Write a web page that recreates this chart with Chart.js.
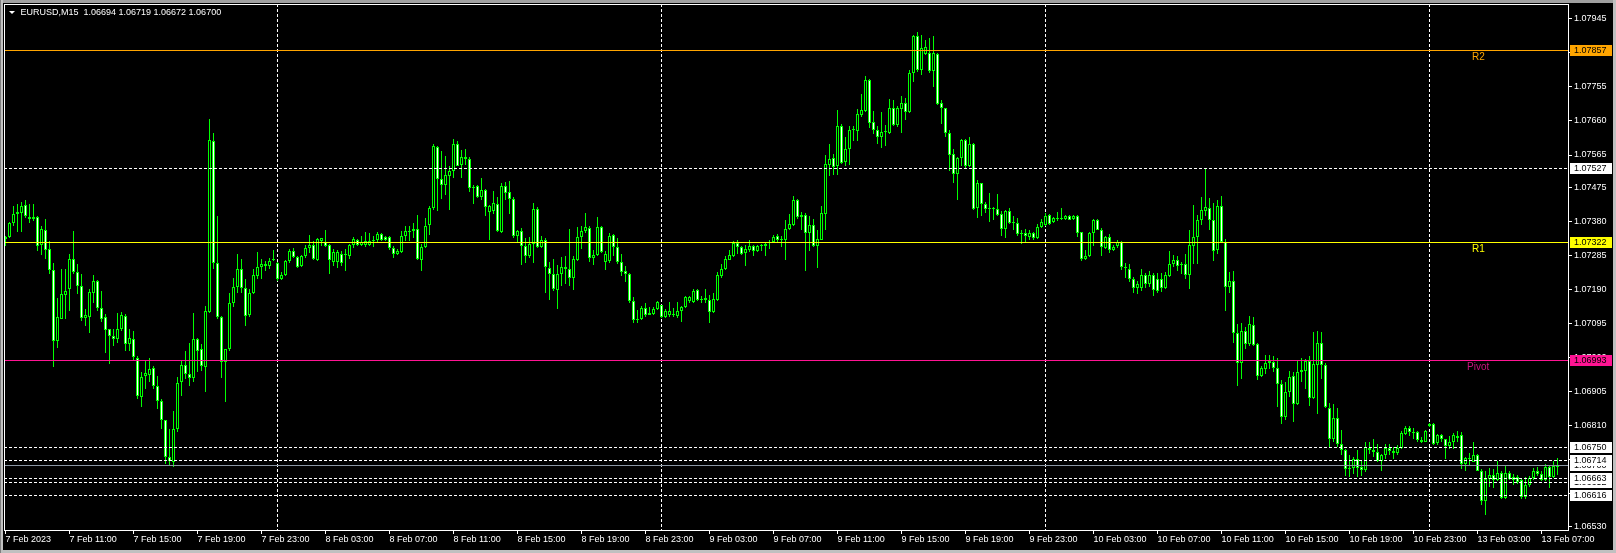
<!DOCTYPE html>
<html>
<head>
<meta charset="utf-8">
<script src="https://cdn.jsdelivr.net/npm/chart.js@4.4.1/dist/chart.umd.min.js"></script>
<style>
html,body{margin:0;padding:0;background:#000;overflow:hidden}
#wrap{width:1616px;height:553px;position:relative}
</style>
</head>
<body>
<div id="wrap"><canvas id="c"></canvas></div>
<script>
// ---------------- DATA ----------------
const symbolTitle = 'EURUSD,M15';

const opens = [
1.07331,1.07337,1.07376,1.07401,1.07403,1.07426,1.07392,1.07387,1.07392,1.07314,
1.07357,1.07302,1.07243,1.07047,1.07109,1.07175,1.07192,1.07276,1.07239,1.07200,
1.07111,1.07114,1.07181,1.07214,1.07137,1.07114,1.07079,1.07059,1.07052,1.07079,
1.07116,1.07038,1.07053,1.07000,1.06889,1.06948,1.06952,1.06970,1.06920,1.06880,
1.06825,1.06723,1.06709,1.06800,1.06931,1.06979,1.06954,1.06942,1.07052,1.07024,
1.06973,1.07126,1.07604,1.07263,1.07114,1.06989,1.07024,1.07151,1.07198,1.07248,
1.07194,1.07118,1.07181,1.07227,1.07252,1.07255,1.07255,1.07272,1.07264,1.07220,
1.07231,1.07269,1.07297,1.07281,1.07255,1.07283,1.07306,1.07313,1.07272,1.07324,
1.07322,1.07313,1.07268,1.07266,1.07290,1.07287,1.07283,1.07313,1.07327,1.07314,
1.07314,1.07314,1.07324,1.07327,1.07345,1.07337,1.07337,1.07306,1.07289,
1.07294,1.07338,1.07349,1.07353,1.07359,1.07271,1.07308,1.07370,1.07417,1.07588,
1.07497,1.07481,1.07507,1.07521,1.07597,1.07537,1.07559,1.07553,1.07474,1.07479,
1.07449,1.07468,1.07405,1.07408,1.07429,1.07349,1.07479,1.07462,1.07442,1.07338,
1.07354,1.07312,1.07284,1.07318,1.07414,1.07308,1.07329,1.07250,1.07233,1.07188,
1.07233,1.07253,1.07247,1.07222,1.07271,1.07336,1.07354,1.07361,1.07278,1.07285,
1.07364,1.07266,1.07269,1.07342,1.07308,1.07266,1.07241,1.07233,1.07158,1.07105,
1.07108,1.07138,1.07120,1.07121,1.07136,1.07147,1.07114,1.07118,1.07118,1.07116,
1.07130,1.07142,1.07158,1.07155,1.07188,1.07162,1.07160,1.07162,1.07127,1.07162,
1.07227,1.07247,1.07273,1.07283,1.07320,1.07308,1.07292,1.07301,1.07312,1.07296,
1.07310,1.07310,1.07320,1.07321,1.07338,1.07327,1.07327,1.07358,1.07371,1.07440,
1.07392,1.07397,1.07347,1.07370,1.07312,1.07329,1.07401,1.07537,1.07556,1.07533,
1.07647,1.07546,1.07581,1.07634,1.07633,1.07676,1.07688,1.07775,1.07656,1.07636,
1.07614,1.07629,1.07627,1.07697,1.07648,1.07692,1.07710,1.07685,1.07794,1.07898,
1.07803,1.07847,1.07849,1.07799,1.07847,1.07709,1.07695,1.07627,1.07568,1.07512,
1.07556,1.07607,1.07533,1.07597,1.07416,1.07486,1.07429,1.07414,1.07416,1.07414,
1.07401,1.07358,1.07408,1.07375,1.07375,1.07346,1.07347,1.07336,1.07347,1.07333,
1.07364,1.07371,1.07397,1.07377,1.07386,1.07387,1.07386,1.07396,1.07386,1.07396,
1.07349,1.07275,1.07283,1.07347,1.07384,1.07357,1.07306,1.07336,1.07301,1.07310,
1.07321,1.07253,1.07247,1.07218,1.07195,1.07195,1.07229,1.07205,
1.07229,1.07220,1.07220,1.07195,1.07227,1.07260,1.07273,1.07260,1.07260,1.07229,
1.07312,1.07336,1.07383,1.07410,1.07417,1.07385,1.07301,1.07423,1.07322,1.07197,
1.07215,1.07070,1.06986,1.07074,1.07037,1.07090,1.07037,1.06949,1.06968,1.06986,
1.06989,1.06972,1.06925,1.06833,1.06905,1.06949,1.06871,1.06960,1.06963,1.06990,
1.06886,1.06979,1.07040,1.06979,1.06859,1.06772,1.06831,1.06759,1.06743,1.06688,
1.06692,1.06718,1.06695,1.06686,1.06747,1.06741,1.06736,1.06713,1.06727,1.06747,
1.06740,1.06734,1.06748,1.06787,1.06803,1.06792,1.06792,1.06771,1.06766,1.06814,
1.06814,1.06762,1.06784,1.06772,1.06753,1.06766,1.06777,1.06783,1.06704,1.06720,
1.06710,1.06729,1.06685,1.06599,1.06661,1.06673,1.06658,1.06679,1.06609,1.06679,
1.06667,1.06667,1.06658,1.06611,1.06646,1.06664,1.06685,1.06676,1.06658,1.06695,
1.06667,1.06694
];

const highs = [
1.07340,1.07377,1.07422,1.07427,1.07433,1.07440,1.07427,1.07427,1.07396,1.07368,
1.07387,1.07325,1.07265,1.07167,1.07246,1.07246,1.07288,1.07352,1.07260,1.07232,
1.07135,1.07192,1.07229,1.07216,1.07186,1.07121,1.07081,1.07081,1.07124,1.07127,
1.07121,1.07081,1.07075,1.07005,1.06959,1.06994,1.06998,1.06977,1.06950,1.06885,
1.06827,1.06801,1.06852,1.06945,1.06994,1.07019,1.07042,1.07124,1.07056,1.07038,
1.07144,1.07665,1.07626,1.07394,1.07116,1.07024,1.07181,1.07223,1.07289,1.07274,
1.07220,1.07190,1.07246,1.07295,1.07274,1.07269,1.07278,1.07300,1.07266,1.07239,
1.07272,1.07303,1.07306,1.07283,1.07285,1.07313,1.07343,1.07325,1.07334,1.07334,
1.07355,1.07318,1.07302,1.07300,1.07297,1.07302,1.07318,1.07336,1.07331,1.07339,
1.07350,1.07348,1.07339,1.07350,1.07348,1.07340,1.07339,1.07311,1.07302,
1.07352,1.07366,1.07366,1.07375,1.07398,1.07318,1.07389,1.07423,1.07597,1.07590,
1.07577,1.07562,1.07534,1.07609,1.07604,1.07579,1.07581,1.07560,1.07482,1.07482,
1.07500,1.07470,1.07426,1.07465,1.07447,1.07486,1.07491,1.07493,1.07447,1.07357,
1.07361,1.07333,1.07336,1.07431,1.07421,1.07338,1.07333,1.07266,1.07275,1.07259,
1.07281,1.07283,1.07358,1.07284,1.07364,1.07366,1.07403,1.07366,1.07301,1.07392,
1.07366,1.07296,1.07347,1.07344,1.07333,1.07290,1.07255,1.07236,1.07170,1.07134,
1.07144,1.07151,1.07142,1.07142,1.07158,1.07148,1.07136,1.07155,1.07139,1.07155,
1.07144,1.07171,1.07171,1.07190,1.07192,1.07173,1.07190,1.07175,1.07181,1.07238,
1.07262,1.07283,1.07301,1.07324,1.07329,1.07312,1.07315,1.07329,1.07315,1.07315,
1.07318,1.07320,1.07327,1.07343,1.07346,1.07338,1.07384,1.07401,1.07451,1.07442,
1.07405,1.07403,1.07394,1.07386,1.07355,1.07423,1.07565,1.07596,1.07568,1.07690,
1.07651,1.07614,1.07646,1.07647,1.07694,1.07736,1.07784,1.07777,1.07688,1.07646,
1.07685,1.07648,1.07722,1.07718,1.07701,1.07729,1.07725,1.07803,1.07901,1.07907,
1.07901,1.07886,1.07892,1.07896,1.07849,1.07718,1.07697,1.07634,1.07583,1.07560,
1.07611,1.07611,1.07616,1.07599,1.07494,1.07488,1.07435,1.07458,1.07421,1.07457,
1.07408,1.07412,1.07417,1.07396,1.07388,1.07355,1.07358,1.07357,1.07351,1.07373,
1.07386,1.07403,1.07401,1.07392,1.07405,1.07417,1.07398,1.07398,1.07398,1.07398,
1.07351,1.07301,1.07351,1.07386,1.07386,1.07361,1.07338,1.07346,1.07315,1.07327,
1.07324,1.07264,1.07260,1.07225,1.07215,1.07246,1.07235,1.07241,
1.07235,1.07235,1.07236,1.07238,1.07297,1.07285,1.07283,1.07266,1.07290,1.07355,
1.07426,1.07398,1.07449,1.07528,1.07445,1.07431,1.07440,1.07451,1.07330,1.07238,
1.07241,1.07093,1.07097,1.07084,1.07116,1.07114,1.07040,1.06977,1.07007,1.07007,
1.07005,1.07000,1.06938,1.06931,1.06963,1.06960,1.06994,1.06998,1.06996,1.07005,
1.07072,1.07074,1.07072,1.06986,1.06873,1.06871,1.06859,1.06797,1.06746,1.06727,
1.06722,1.06741,1.06713,1.06764,1.06764,1.06772,1.06759,1.06732,1.06759,1.06759,
1.06750,1.06755,1.06794,1.06809,1.06810,1.06803,1.06794,1.06778,1.06797,1.06818,
1.06818,1.06787,1.06787,1.06773,1.06781,1.06790,1.06794,1.06792,1.06722,1.06734,
1.06766,1.06732,1.06688,1.06685,1.06692,1.06690,1.06713,1.06685,1.06699,1.06685,
1.06676,1.06673,1.06662,1.06667,1.06670,1.06692,1.06695,1.06683,1.06704,1.06699,
1.06713,1.06719
];

const lows = [
1.07311,1.07334,1.07366,1.07350,1.07350,1.07389,1.07376,1.07380,1.07297,1.07285,
1.07274,1.07232,1.06975,1.07028,1.07107,1.07107,1.07130,1.07232,1.07177,1.07102,
1.07089,1.07070,1.07153,1.07130,1.07098,1.07014,1.06982,1.07033,1.07042,1.07075,
1.07019,1.07019,1.06991,1.06885,1.06862,1.06913,1.06933,1.06913,1.06857,1.06801,
1.06704,1.06700,1.06695,1.06792,1.06894,1.06940,1.06920,1.06933,1.06959,1.06964,
1.06903,1.07124,1.07246,1.07107,1.06942,1.06877,1.07019,1.07142,1.07181,1.07181,
1.07087,1.07114,1.07177,1.07218,1.07220,1.07241,1.07246,1.07269,1.07214,1.07216,
1.07227,1.07264,1.07278,1.07251,1.07253,1.07278,1.07292,1.07272,1.07269,1.07311,
1.07309,1.07232,1.07255,1.07251,1.07255,1.07241,1.07274,1.07306,1.07311,1.07311,
1.07309,1.07311,1.07309,1.07322,1.07325,1.07324,1.07301,1.07278,1.07285,
1.07292,1.07324,1.07324,1.07333,1.07273,1.07241,1.07306,1.07343,1.07412,1.07410,
1.07442,1.07454,1.07412,1.07500,1.07533,1.07500,1.07537,1.07463,1.07429,1.07445,
1.07440,1.07396,1.07329,1.07401,1.07349,1.07347,1.07440,1.07401,1.07333,1.07320,
1.07257,1.07264,1.07278,1.07264,1.07306,1.07306,1.07179,1.07162,1.07185,1.07136,
1.07201,1.07204,1.07201,1.07188,1.07269,1.07303,1.07347,1.07266,1.07257,1.07283,
1.07292,1.07244,1.07264,1.07283,1.07262,1.07227,1.07210,1.07153,1.07097,1.07097,
1.07105,1.07114,1.07118,1.07118,1.07134,1.07111,1.07111,1.07114,1.07114,1.07111,
1.07099,1.07139,1.07153,1.07153,1.07158,1.07153,1.07151,1.07097,1.07125,1.07158,
1.07222,1.07244,1.07271,1.07281,1.07290,1.07287,1.07255,1.07294,1.07284,1.07294,
1.07296,1.07284,1.07303,1.07320,1.07323,1.07308,1.07271,1.07355,1.07368,1.07386,
1.07355,1.07241,1.07296,1.07308,1.07250,1.07327,1.07357,1.07507,1.07509,1.07509,
1.07540,1.07533,1.07537,1.07605,1.07605,1.07670,1.07685,1.07639,1.07623,1.07597,
1.07585,1.07590,1.07623,1.07646,1.07644,1.07627,1.07662,1.07683,1.07769,1.07796,
1.07787,1.07843,1.07794,1.07755,1.07704,1.07651,1.07616,1.07521,1.07486,1.07440,
1.07533,1.07528,1.07531,1.07412,1.07389,1.07394,1.07403,1.07377,1.07383,1.07394,
1.07340,1.07333,1.07373,1.07357,1.07340,1.07318,1.07320,1.07329,1.07327,1.07331,
1.07361,1.07368,1.07371,1.07375,1.07380,1.07384,1.07384,1.07383,1.07384,1.07336,
1.07269,1.07271,1.07281,1.07310,1.07355,1.07283,1.07304,1.07292,1.07296,1.07307,
1.07244,1.07222,1.07210,1.07180,1.07178,1.07185,1.07195,1.07198,
1.07173,1.07181,1.07183,1.07192,1.07225,1.07253,1.07241,1.07232,1.07218,1.07190,
1.07260,1.07260,1.07371,1.07396,1.07357,1.07269,1.07290,1.07320,1.07130,1.07179,
1.07042,1.06920,1.06940,1.07023,1.07033,1.07033,1.06938,1.06945,1.06954,1.06968,
1.06960,1.06861,1.06815,1.06827,1.06889,1.06820,1.06868,1.06931,1.06912,1.06864,
1.06884,1.06843,1.06940,1.06859,1.06750,1.06764,1.06750,1.06727,1.06670,1.06667,
1.06676,1.06667,1.06670,1.06681,1.06732,1.06723,1.06709,1.06685,1.06718,1.06727,
1.06718,1.06729,1.06744,1.06783,1.06781,1.06773,1.06766,1.06762,1.06764,1.06806,
1.06755,1.06755,1.06766,1.06718,1.06746,1.06746,1.06766,1.06688,1.06683,1.06699,
1.06709,1.06683,1.06588,1.06560,1.06639,1.06635,1.06655,1.06607,1.06607,1.06658,
1.06644,1.06648,1.06607,1.06607,1.06639,1.06658,1.06671,1.06655,1.06655,1.06635,
1.06664,1.06672
];

const closes = [
1.07337,1.07376,1.07401,1.07405,1.07424,1.07394,1.07387,1.07393,1.07311,1.07359,
1.07300,1.07243,1.07047,1.07112,1.07177,1.07185,1.07274,1.07239,1.07200,1.07110,
1.07118,1.07183,1.07214,1.07138,1.07109,1.07077,1.07059,1.07053,1.07079,1.07118,
1.07039,1.07056,1.07002,1.06892,1.06945,1.06956,1.06968,1.06920,1.06880,1.06825,
1.06723,1.06711,1.06801,1.06929,1.06979,1.06954,1.06944,1.07052,1.07019,1.06976,
1.07129,1.07607,1.07263,1.07114,1.06989,1.07024,1.07151,1.07198,1.07248,1.07193,
1.07116,1.07181,1.07229,1.07252,1.07260,1.07260,1.07269,1.07276,1.07220,1.07231,
1.07269,1.07297,1.07281,1.07253,1.07283,1.07306,1.07315,1.07276,1.07331,1.07333,
1.07311,1.07272,1.07295,1.07295,1.07264,1.07290,1.07313,1.07331,1.07314,1.07322,
1.07324,1.07325,1.07327,1.07345,1.07327,1.07327,1.07305,1.07288,1.07296,
1.07340,1.07354,1.07353,1.07359,1.07275,1.07308,1.07368,1.07417,1.07590,1.07497,
1.07481,1.07509,1.07521,1.07596,1.07534,1.07559,1.07553,1.07474,1.07477,1.07449,
1.07468,1.07421,1.07423,1.07431,1.07352,1.07479,1.07460,1.07442,1.07338,1.07354,
1.07310,1.07283,1.07318,1.07414,1.07308,1.07327,1.07253,1.07232,1.07190,1.07234,
1.07253,1.07247,1.07222,1.07275,1.07336,1.07354,1.07363,1.07278,1.07287,1.07364,
1.07294,1.07290,1.07340,1.07308,1.07266,1.07238,1.07233,1.07158,1.07105,1.07108,
1.07138,1.07118,1.07123,1.07136,1.07155,1.07114,1.07129,1.07130,1.07121,1.07130,
1.07142,1.07170,1.07170,1.07185,1.07160,1.07164,1.07167,1.07127,1.07164,1.07229,
1.07247,1.07275,1.07287,1.07320,1.07308,1.07290,1.07303,1.07312,1.07296,1.07312,
1.07314,1.07318,1.07323,1.07336,1.07327,1.07329,1.07358,1.07373,1.07440,1.07392,
1.07397,1.07347,1.07370,1.07312,1.07331,1.07403,1.07540,1.07553,1.07531,1.07647,
1.07544,1.07581,1.07636,1.07638,1.07678,1.07690,1.07775,1.07653,1.07636,1.07614,
1.07630,1.07631,1.07697,1.07648,1.07695,1.07710,1.07685,1.07795,1.07898,1.07801,
1.07864,1.07866,1.07799,1.07849,1.07707,1.07697,1.07627,1.07565,1.07512,1.07556,
1.07608,1.07533,1.07597,1.07414,1.07486,1.07429,1.07414,1.07417,1.07414,1.07398,
1.07358,1.07408,1.07375,1.07377,1.07345,1.07347,1.07338,1.07347,1.07333,1.07364,
1.07379,1.07396,1.07373,1.07388,1.07388,1.07389,1.07396,1.07384,1.07396,1.07347,
1.07275,1.07284,1.07347,1.07384,1.07357,1.07308,1.07336,1.07301,1.07308,1.07321,
1.07253,1.07249,1.07218,1.07195,1.07205,1.07229,1.07205,1.07229,
1.07188,1.07185,1.07195,1.07229,1.07262,1.07273,1.07255,1.07257,1.07229,1.07315,
1.07336,1.07385,1.07412,1.07420,1.07383,1.07297,1.07423,1.07322,1.07197,1.07213,
1.07070,1.06986,1.07074,1.07037,1.07093,1.07034,1.06949,1.06970,1.06986,1.06990,
1.06971,1.06925,1.06833,1.06905,1.06947,1.06871,1.06960,1.06965,1.06990,1.06886,
1.06982,1.07042,1.06979,1.06861,1.06772,1.06831,1.06759,1.06741,1.06688,1.06693,
1.06718,1.06692,1.06686,1.06750,1.06741,1.06736,1.06713,1.06727,1.06747,1.06740,
1.06734,1.06748,1.06790,1.06803,1.06792,1.06790,1.06769,1.06766,1.06794,1.06809,
1.06760,1.06784,1.06772,1.06753,1.06766,1.06783,1.06781,1.06704,1.06720,1.06716,
1.06729,1.06685,1.06599,1.06662,1.06673,1.06658,1.06679,1.06609,1.06679,1.06662,
1.06658,1.06653,1.06611,1.06646,1.06664,1.06685,1.06676,1.06658,1.06695,1.06667,
1.06699,1.06700
];

// time axis: bar index of each label and its text
const timeTickBars = [0,16,32,48,64,80,96,112,128,144,160,176,192,208,224,240,256,272,288,304,320,336,352,368,384];
const timeTickLabels = ['7 Feb 2023','7 Feb 11:00','7 Feb 15:00','7 Feb 19:00','7 Feb 23:00',
  '8 Feb 03:00','8 Feb 07:00','8 Feb 11:00','8 Feb 15:00','8 Feb 19:00','8 Feb 23:00',
  '9 Feb 03:00','9 Feb 07:00','9 Feb 11:00','9 Feb 15:00','9 Feb 19:00','9 Feb 23:00',
  '10 Feb 03:00','10 Feb 07:00','10 Feb 11:00','10 Feb 15:00','10 Feb 19:00','10 Feb 23:00',
  '13 Feb 03:00','13 Feb 07:00'];
const daySeparatorBars = [68,164,260,356];

// price axis tick labels
const priceTicks = [1.07945,1.07850,1.07755,1.07660,1.07565,1.07475,1.07380,1.07285,1.07190,1.07095,1.07000,1.06905,1.06810,1.06715,1.06620,1.06530];

// levels
const pivotNames  = ['R2','R1','Pivot'];
const pivotValues = [1.07857,1.07322,1.06993];
const dottedLevels = [1.07527,1.06750,1.06714,1.06663,1.06652,1.06616];

// ---------------- STYLE ----------------
const FONT = "'Liberation Sans', Arial, sans-serif";
const CANDLE = '#00FF00';
const pivotLineColors = ['#FFA500','#FFFF00','#FF1493'];
const pivotTextColors = ['#FFA500','#FFFF00','#C8157E'];
const BID_COLOR = '#8A96A3';
const DASH = [3,2];

Chart.defaults.font.family = FONT;
Chart.defaults.font.size = 9;
Chart.defaults.color = '#ffffff';

const N = closes.length;
const wickData = [], bodyData = [], bodyFill = [];
for (let i = 0; i < N; i++) {
  wickData.push({x: i, y: [lows[i], highs[i]]});
  bodyData.push({x: i, y: [opens[i], closes[i]]});
  bodyFill.push(closes[i] < opens[i] ? '#FFFFFF' : '#000000');
}
const bidValue = closes[N - 1];

function rowOf(scale, v) { return Math.floor(scale.getPixelForValue(v) + 0.2); }

const snapPlugin = {
  id: 'snap',
  afterDatasetsUpdate(chart) {
    chart.data.datasets.forEach((ds, di) => {
      const meta = chart.getDatasetMeta(di);
      meta.data.forEach(el => {
        const t0 = Math.min(el.y, el.base), b0 = Math.max(el.y, el.base);
        let t = Math.round(t0), b = Math.round(b0);
        if (b - t < 1) b = t + 1;
        if (el.y <= el.base) { el.y = t; el.base = b; } else { el.y = b; el.base = t; }
      });
    });
  }
};

function labelBox(ctx, row, text, bg) {
  ctx.fillStyle = bg;
  ctx.fillRect(1570, row - 5, 42, 11);
  ctx.fillStyle = '#000000';
  ctx.font = '9px ' + FONT;
  ctx.textAlign = 'left';
  ctx.textBaseline = 'middle';
  ctx.fillText(text, 1574, row + 0.5);
}

const overlayPlugin = {
  id: 'overlay',
  beforeDraw(chart) {
    const ctx = chart.ctx;
    ctx.save();
    ctx.fillStyle = '#000';
    ctx.fillRect(0, 0, chart.width, chart.height);
    ctx.restore();
  },
  beforeDatasetsDraw(chart) {
    const {ctx, chartArea: a, scales: {x}} = chart;
    ctx.save();
    ctx.strokeStyle = '#FFFFFF';
    ctx.lineWidth = 1;
    ctx.setLineDash(DASH);
    daySeparatorBars.forEach(b => {
      const px = Math.floor(x.getPixelForValue(b)) + 0.5;
      ctx.beginPath(); ctx.moveTo(px, a.top); ctx.lineTo(px, a.bottom); ctx.stroke();
    });
    ctx.restore();
  },
  afterDatasetsDraw(chart) {
    const {ctx, chartArea: a, scales: {y}} = chart;
    ctx.save();
    ctx.beginPath(); ctx.rect(a.left, a.top, a.right - a.left, a.bottom - a.top); ctx.clip();
    ctx.lineWidth = 1;
    // dotted levels
    ctx.strokeStyle = '#FFFFFF';
    ctx.setLineDash(DASH);
    dottedLevels.forEach(v => {
      const py = rowOf(y, v) + 0.5;
      ctx.beginPath(); ctx.moveTo(a.left, py); ctx.lineTo(a.right, py); ctx.stroke();
    });
    ctx.setLineDash([]);
    // bid line
    ctx.strokeStyle = BID_COLOR;
    let py = rowOf(y, bidValue) + 0.5;
    ctx.beginPath(); ctx.moveTo(a.left, py); ctx.lineTo(a.right, py); ctx.stroke();
    // pivot lines
    pivotValues.forEach((v, i) => {
      ctx.strokeStyle = pivotLineColors[i];
      const p = rowOf(y, v) + 0.5;
      ctx.beginPath(); ctx.moveTo(a.left, p); ctx.lineTo(a.right, p); ctx.stroke();
    });
    // pivot texts
    ctx.font = '10px ' + FONT;
    ctx.textAlign = 'left';
    ctx.textBaseline = 'middle';
    pivotValues.forEach((v, i) => {
      ctx.fillStyle = pivotTextColors[i];
      const x0 = pivotNames[i] === 'Pivot' ? 1467 : 1472;
      ctx.fillText(pivotNames[i], x0, rowOf(y, v) + 7);
    });
    ctx.restore();
  },
  afterDraw(chart) {
    const {ctx, chartArea: a, scales: {y}} = chart;
    ctx.save();
    // frame
    ctx.strokeStyle = '#FFFFFF';
    ctx.lineWidth = 1;
    ctx.strokeRect(Math.round(a.left) + 0.5, Math.round(a.top) + 0.5, Math.round(a.right - a.left), Math.round(a.bottom - a.top));
    // price labels on axis (hidden ones first)
    labelBox(ctx, rowOf(y, bidValue), bidValue.toFixed(5), '#FFFFFF');
    labelBox(ctx, rowOf(y, dottedLevels[4]), dottedLevels[4].toFixed(5), '#FFFFFF');
    [0,1,2,3,5].forEach(k => labelBox(ctx, rowOf(y, dottedLevels[k]), dottedLevels[k].toFixed(5), '#FFFFFF'));
    pivotValues.forEach((v, i) => labelBox(ctx, rowOf(y, v), v.toFixed(5), pivotLineColors[i]));
    // header
    ctx.fillStyle = '#FFFFFF';
    ctx.beginPath(); ctx.moveTo(9, 11); ctx.lineTo(15, 11); ctx.lineTo(12, 14); ctx.closePath(); ctx.fill();
    ctx.font = '9px ' + FONT;
    ctx.textAlign = 'left';
    ctx.textBaseline = 'middle';
    const last = N - 1;
    const header = symbolTitle + '  ' + [opens[last], highs[last], lows[last], closes[last]].map(v => v.toFixed(5)).join(' ');
    ctx.fillText(header, 20.5, 13);
    // window border
    ctx.fillStyle = '#A0A0A0';
    ctx.fillRect(0, 0, chart.width, 3);
    ctx.fillStyle = '#C0C0C0';
    ctx.fillRect(0, 0, 3, chart.height);
    ctx.fillRect(chart.width - 3, 0, 3, chart.height);
    ctx.fillRect(0, chart.height - 3, chart.width, 3);
    ctx.fillStyle = '#808080';
    ctx.fillRect(0, 0, 1, chart.height);
    ctx.restore();
  }
};

const Y_MAX = 1.0798612, Y_MIN = 1.0651922;

new Chart(document.getElementById('c'), {
  type: 'bar',
  data: {
    datasets: [
      {
        label: 'wick', data: wickData, backgroundColor: CANDLE, borderWidth: 0,
        barThickness: 1, grouped: false, inflateAmount: 0, minBarLength: 1, order: 2
      },
      {
        label: 'body', data: bodyData, backgroundColor: bodyFill, borderColor: CANDLE,
        borderWidth: 1, borderSkipped: false, barThickness: 3, grouped: false,
        inflateAmount: 0, minBarLength: 1, order: 1
      }
    ]
  },
  options: {
    responsive: true,
    maintainAspectRatio: false,
    devicePixelRatio: 1,
    animation: false,
    events: [],
    layout: { padding: { left: 4, top: 4, right: 0, bottom: 0 } },
    plugins: { legend: { display: false }, tooltip: { enabled: false } },
    scales: {
      x: {
        type: 'linear', min: -0.375, max: 390.625, offset: false,
        afterBuildTicks: s => { s.ticks = timeTickBars.map(v => ({ value: v })); },
        afterFit: s => { s.height = 23; s.paddingLeft = 0; s.paddingRight = 0; s.paddingTop = 0; s.paddingBottom = 0; },
        ticks: {
          autoSkip: false, maxRotation: 0, minRotation: 0, align: 'start', padding: 0,
          color: '#FFFFFF', font: { size: 9 },
          callback: v => timeTickLabels[timeTickBars.indexOf(v)]
        },
        grid: { drawOnChartArea: false, drawTicks: true, tickLength: 4, color: '#FFFFFF', offset: false },
        border: { display: false }
      },
      y: {
        type: 'linear', position: 'right', min: Y_MIN, max: Y_MAX,
        afterBuildTicks: s => { s.ticks = priceTicks.map(v => ({ value: v })); },
        afterFit: s => { s.width = 48; s.paddingLeft = 0; s.paddingRight = 0; s.paddingTop = 0; s.paddingBottom = 0; },
        ticks: { autoSkip: false, padding: 2, color: '#FFFFFF', font: { size: 9 }, callback: v => v.toFixed(5) },
        grid: { drawOnChartArea: false, drawTicks: true, tickLength: 4, color: '#FFFFFF' },
        border: { display: false }
      }
    }
  },
  plugins: [snapPlugin, overlayPlugin]
});
</script>
</body>
</html>
